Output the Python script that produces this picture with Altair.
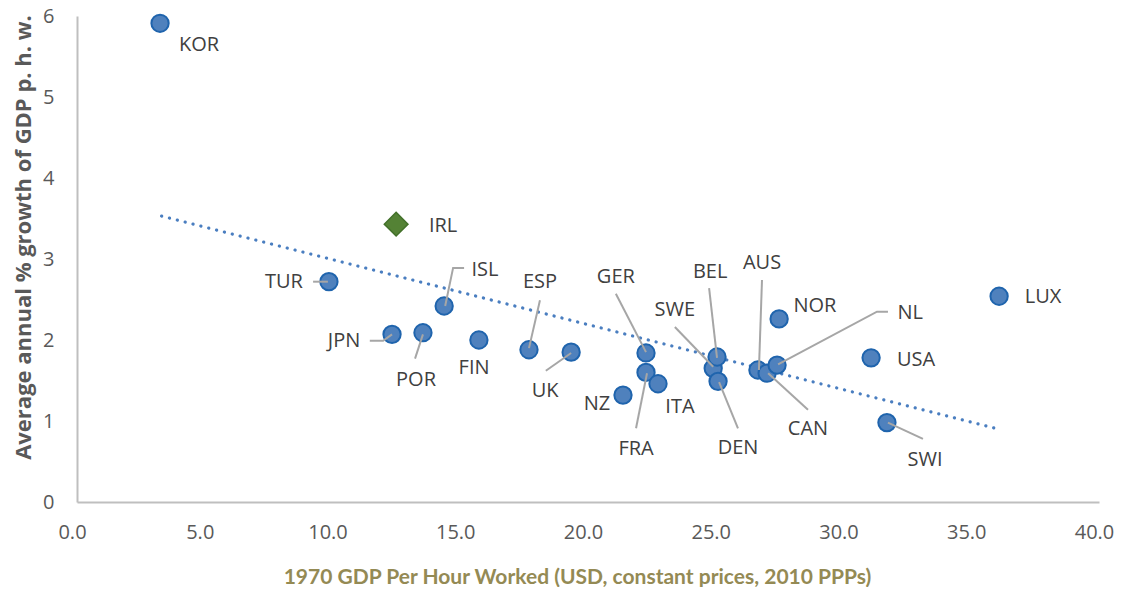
import altair as alt
import pandas as pd

# --- data ---
countries = ["KOR", "TUR", "JPN", "POR", "ISL", "FIN", "ESP", "UK", "NZ", "GER", "FRA", "ITA",
             "SWE", "BEL", "DEN", "AUS", "CAN", "NL", "NOR", "USA", "SWI", "LUX"]
gdp_1970 = [3.25, 9.86, 12.33, 13.54, 14.37, 15.73, 17.69, 19.34, 21.37, 22.27, 22.27, 22.74,
            24.90, 25.05, 25.09, 26.65, 27.01, 27.40, 27.48, 31.08, 31.70, 36.09]
growth = [5.91, 2.72, 2.07, 2.09, 2.42, 2.00, 1.88, 1.85, 1.32, 1.84, 1.60, 1.46,
          1.65, 1.79, 1.49, 1.63, 1.59, 1.69, 2.26, 1.78, 0.98, 2.54]

irl_country = ["IRL"]
irl_gdp = [12.49]
irl_growth = [3.43]

# label anchor positions (data units)
label_names = countries + irl_country
label_x = [4.78, 8.10, 10.45, 13.27, 15.97, 15.54, 18.12, 18.32, 20.35, 21.09, 21.88, 23.60,
           23.40, 24.78, 25.87, 26.81, 28.61, 32.61, 28.88, 32.84, 33.19, 37.81, 14.33]
label_y = [5.64, 2.72, 1.99, 1.51, 2.86, 1.65, 2.72, 1.37, 1.21, 2.78, 0.65, 1.17,
           2.37, 2.84, 0.67, 2.95, 0.90, 2.33, 2.42, 1.75, 0.52, 2.53, 3.41]

# leader lines (polylines)
leader_country = ["TUR", "TUR", "JPN", "JPN", "JPN", "POR", "POR", "ISL", "ISL", "ISL",
                  "ESP", "ESP", "UK", "UK", "GER", "GER", "FRA", "FRA", "SWE", "SWE",
                  "BEL", "BEL", "DEN", "DEN", "AUS", "AUS", "CAN", "CAN", "NL", "NL", "NL",
                  "SWI", "SWI"]
leader_order = [0, 1, 0, 1, 2, 0, 1, 0, 1, 2, 0, 1, 0, 1, 0, 1, 0, 1, 0, 1,
                0, 1, 0, 1, 0, 1, 0, 1, 0, 1, 2, 0, 1]
leader_x = [9.24, 9.82, 11.46, 11.98, 12.33, 13.23, 13.54, 15.15, 14.72, 14.41,
            18.12, 17.69, 18.35, 19.34, 21.09, 22.27, 21.88, 22.31, 23.40, 24.90,
            24.74, 25.05, 25.87, 25.13, 26.81, 26.69, 28.61, 27.05, 31.74, 31.31, 27.44,
            33.11, 31.74]
leader_y = [2.72, 2.72, 1.99, 1.99, 2.07, 1.77, 2.07, 2.89, 2.89, 2.42,
            2.49, 1.90, 1.62, 1.84, 2.57, 1.85, 0.91, 1.59, 2.16, 1.67,
            2.64, 1.78, 0.91, 1.48, 2.74, 1.63, 1.14, 1.59, 2.35, 2.35, 1.70,
            0.78, 0.98]

# trendline end points
trend_x = [3.31, 35.94]
trend_y = [3.53, 0.91]

pts = pd.DataFrame({"country": countries, "x": gdp_1970, "y": growth})
irl = pd.DataFrame({"country": irl_country, "x": irl_gdp, "y": irl_growth})
labels = pd.DataFrame({"country": label_names, "x": label_x, "y": label_y})
leaders = pd.DataFrame({"country": leader_country, "o": leader_order, "x": leader_x, "y": leader_y})
trend = pd.DataFrame({"x": trend_x, "y": trend_y})

FONT = "Open Sans"

xs = alt.Scale(domain=[0, 40], nice=False, zero=False)
ys = alt.Scale(domain=[0, 6], nice=False)

x_axis = alt.Axis(
    values=[0, 5, 10, 15, 20, 25, 30, 35, 40], format=".1f", grid=False, ticks=False,
    labelFlush=False, labelOverlap=False, labelBound=False, labelOffset=-5,
    domainColor="#BFBFBF", domainWidth=2, labelColor="#595959", labelFont=FONT,
    labelFontSize=20, labelPadding=20,
    title="1970 GDP Per Hour Worked (USD, constant prices, 2010 PPPs)",
    titleFont="Lato", titleFontSize=21, titleFontWeight="bold", titleColor="#948A54",
    titleX=500, titleY=75, titleAlign="center", titleBaseline="middle",
)
y_axis = alt.Axis(
    values=[0, 1, 2, 3, 4, 5, 6], format="d", grid=False, ticks=False,
    labelFlush=False, labelOverlap=False, labelBound=False,
    domainColor="#BFBFBF", domainWidth=2, labelColor="#595959", labelFont=FONT,
    labelFontSize=20, labelPadding=23,
    title="Average annual % growth of GDP p. h. w.",
    titleFont=FONT, titleFontSize=22, titleFontWeight="bold", titleColor="#595959",
    titleAngle=-90, titleX=-54, titleY=221, titleAlign="center", titleBaseline="middle",
)

trend_layer = alt.Chart(trend).mark_line(
    color="#4A7EC0", strokeWidth=3.2, strokeDash=[0.1, 8], strokeCap="round"
).encode(x=alt.X("x:Q", scale=xs, axis=x_axis), y=alt.Y("y:Q", scale=ys, axis=y_axis))

leader_layer = alt.Chart(leaders).mark_line(color="#A6A6A6", strokeWidth=2).encode(
    x=alt.X("x:Q", scale=xs), y=alt.Y("y:Q", scale=ys), detail="country:N", order="o:Q"
)

pts_layer = alt.Chart(pts).mark_point(
    shape="circle", filled=True, size=300, fill="#4F81BD", stroke="#1F64AD",
    strokeWidth=2, opacity=1
).encode(x=alt.X("x:Q", scale=xs), y=alt.Y("y:Q", scale=ys))

irl_layer = alt.Chart(irl).mark_point(
    shape="diamond", filled=True, size=560, fill="#548235", stroke="#42702A",
    strokeWidth=1.5, opacity=1
).encode(x=alt.X("x:Q", scale=xs), y=alt.Y("y:Q", scale=ys))

label_layer = alt.Chart(labels).mark_text(
    font=FONT, fontSize=20, color="#404040", align="center", baseline="middle"
).encode(x=alt.X("x:Q", scale=xs), y=alt.Y("y:Q", scale=ys), text="country:N")

chart = alt.layer(trend_layer, pts_layer, irl_layer, leader_layer, label_layer).properties(
    width=1022, height=486,
    padding={"left": 69, "top": 8, "right": 16, "bottom": 85},
    autosize="none",
).configure_view(stroke=None)

chart.save("out.html", embed_options={"renderer": "svg", "actions": False})
